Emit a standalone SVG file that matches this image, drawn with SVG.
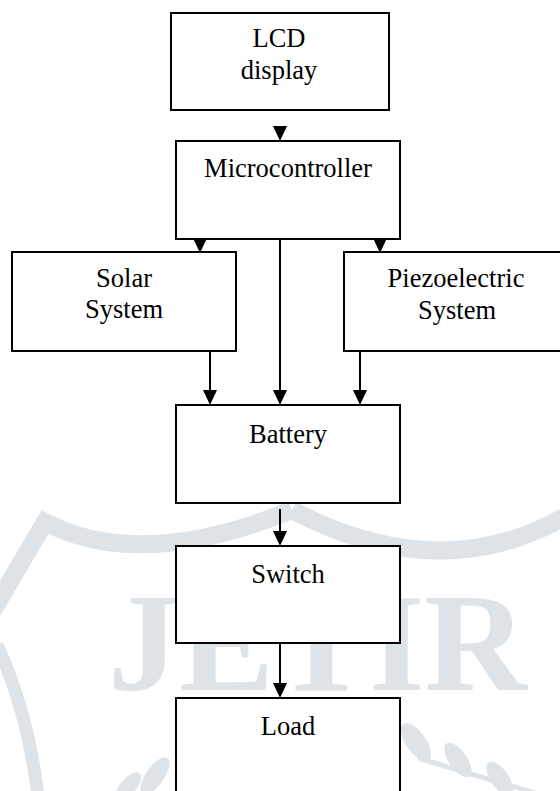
<svg xmlns="http://www.w3.org/2000/svg" xmlns:xlink="http://www.w3.org/1999/xlink" width="560" height="791" viewBox="0 0 560 791">
  <style>
    .box { fill: #ffffff; stroke: #000000; stroke-width: 2; }
    .lbl { font-family: "Liberation Serif", "Times New Roman", serif; font-size: 26.5px; fill: #000000; text-anchor: middle; }
    .wire { stroke: #000000; stroke-width: 2; fill: none; }
    .wm { fill: #dde3e7; }
    .wms { stroke: #dde3e7; fill: none; }
  </style>
  <defs>
    <path id="ah" d="M-7,-15 L7,-15 L0,0 Z" fill="#000000"/>
  </defs>
  <rect x="0" y="0" width="560" height="791" fill="#ffffff"/>

  <g id="watermark">
    <path class="wms" stroke-width="18" stroke-linejoin="miter" d="M -8,612 L 45,522 Q 140,572 292,510"/>
    <path class="wms" stroke-width="18" d="M 292,510 Q 440,588 566,516"/>
    <path class="wms" stroke-width="13" d="M -3,645 Q 28,712 38,796"/>
    <text class="wm" x="108" y="690" font-family="'Liberation Serif', 'Times New Roman', serif" font-weight="bold" font-size="140" textLength="419" lengthAdjust="spacingAndGlyphs">JETIR</text>
    <ellipse class="wm" cx="416" cy="742" rx="10" ry="22" transform="rotate(-35 416 742)"/>
    <ellipse class="wm" cx="458" cy="760" rx="9" ry="20" transform="rotate(-35 458 760)"/>
    <ellipse class="wm" cx="500" cy="779" rx="9" ry="20" transform="rotate(-35 500 779)"/>
    <path class="wms" stroke-width="5" d="M 418,758 L 545,796"/>
    <ellipse class="wm" cx="155" cy="776" rx="9" ry="22" transform="rotate(35 155 776)"/>
    <ellipse class="wm" cx="128" cy="787" rx="8" ry="18" transform="rotate(40 128 787)"/>
  </g>

  <g id="connectors">
    <use xlink:href="#ah" x="280" y="141"/>
    <use xlink:href="#ah" x="200" y="253"/>
    <use xlink:href="#ah" x="380" y="253"/>
    <line class="wire" x1="280" y1="239" x2="280" y2="395"/>
    <use xlink:href="#ah" x="280" y="405"/>
    <line class="wire" x1="210" y1="352" x2="210" y2="395"/>
    <use xlink:href="#ah" x="210" y="405"/>
    <line class="wire" x1="360" y1="352" x2="360" y2="395"/>
    <use xlink:href="#ah" x="360" y="405"/>
    <line class="wire" x1="280" y1="509" x2="280" y2="536"/>
    <use xlink:href="#ah" x="280" y="546"/>
    <line class="wire" x1="280" y1="637" x2="280" y2="688"/>
    <use xlink:href="#ah" x="280" y="698"/>
  </g>

  <g id="lcd">
    <rect class="box" x="171" y="13" width="218" height="97"/>
    <text class="lbl" x="279" y="47">LCD</text>
    <text class="lbl" x="279" y="79">display</text>
  </g>
  <g id="microcontroller">
    <rect class="box" x="176" y="141" width="224" height="98"/>
    <text class="lbl" x="288" y="177">Microcontroller</text>
  </g>
  <g id="solar">
    <rect class="box" x="12" y="252" width="224" height="99"/>
    <text class="lbl" x="124" y="287">Solar</text>
    <text class="lbl" x="124" y="318">System</text>
  </g>
  <g id="piezo">
    <rect class="box" x="344" y="252" width="224" height="99"/>
    <text class="lbl" x="456" y="287">Piezoelectric</text>
    <text class="lbl" x="457" y="319">System</text>
  </g>
  <g id="battery">
    <rect class="box" x="176" y="405" width="224" height="98"/>
    <text class="lbl" x="288" y="443">Battery</text>
  </g>
  <g id="switch">
    <rect class="box" x="176" y="546" width="224" height="97"/>
    <text class="lbl" x="288" y="583">Switch</text>
  </g>
  <g id="load">
    <rect class="box" x="176" y="698" width="224" height="97"/>
    <text class="lbl" x="288" y="735">Load</text>
  </g>
</svg>
